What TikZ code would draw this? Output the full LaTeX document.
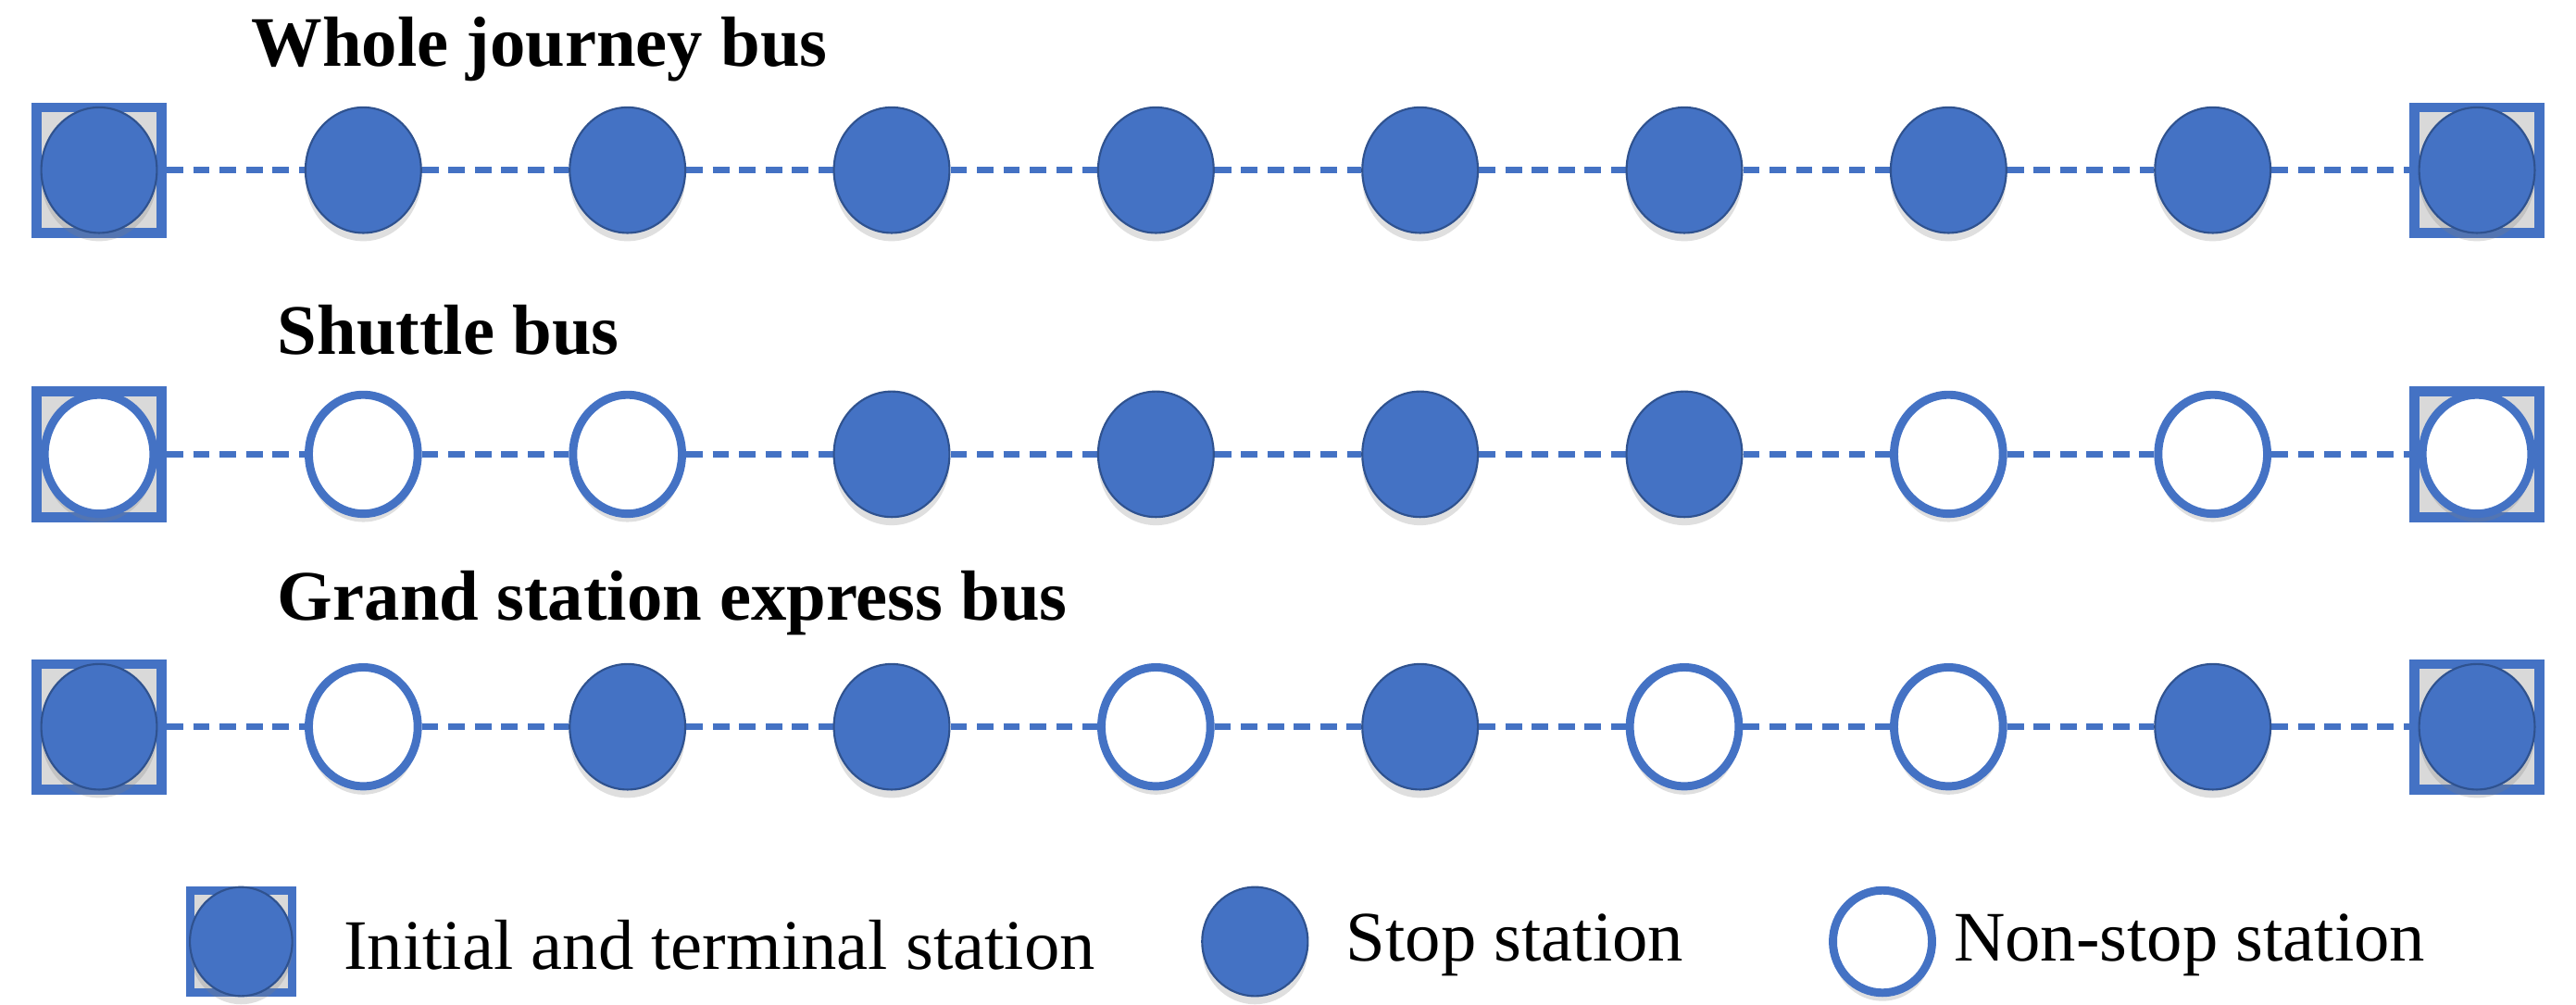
\documentclass[tikz,border=0pt]{standalone}
\usepackage{fontspec}
\setmainfont{Liberation Serif}
\usetikzlibrary{shapes.geometric,backgrounds,shadows}
\definecolor{sb}{HTML}{4472C4}
\definecolor{sbd}{HTML}{2F528F}
\begin{document}
\begin{tikzpicture}[x=1pt,y=-1pt,
  F/.style={ellipse,minimum width=70pt,minimum height=76pt,inner sep=0pt,fill=sb,draw=sbd,line width=1.2pt,drop shadow={opacity=0.25,shadow xshift=0pt,shadow yshift=-5pt}},
  H/.style={ellipse,minimum width=66pt,minimum height=72pt,inner sep=0pt,fill=white,draw=sb,line width=5pt,drop shadow={opacity=0.25,shadow xshift=0pt,shadow yshift=-5pt}},
  box/.style={rectangle,minimum width=76pt,minimum height=76pt,inner sep=0pt,draw=sb,line width=6pt,fill=black!15},
  conn/.style={sb,line width=4pt,dash pattern=on 10pt off 6pt},
  title/.style={font=\fontsize{43}{50}\selectfont\bfseries,anchor=west,inner sep=0pt},
  leg/.style={font=\fontsize{43}{50}\selectfont,anchor=west,inner sep=0pt}]
\useasboundingbox (0,0) rectangle (1560,608);
\node[title] (t1) at (152,30) {Whole journey bus};
\node[title] (t2) at (168,200) {Shuttle bus};
\node[title] (t3) at (168,365) {Grand station express bus};
\foreach \r/\y/\pat in {1/103/{F,F,F,F,F,F,F,F,F,F},2/275/{H,H,H,F,F,F,F,H,H,H},3/440/{F,H,F,F,H,F,H,H,F,F}}{
  \foreach \s [count=\i] in \pat {
    \pgfmathsetmacro\xx{60+160*(\i-1)}
    \ifnum\i=1 \node[box] (b\r-\i) at (\xx,\y) {};\fi
    \ifnum\i=10 \node[box] (b\r-\i) at (\xx,\y) {};\fi
    \node[\s] (n\r-\i) at (\xx,\y) {};
  }
  \begin{scope}[on background layer]
  \draw[conn] (b\r-1.east) -- (n\r-2);
  \foreach \a/\b in {2/3,3/4,4/5,5/6,6/7,7/8,8/9} \draw[conn] (n\r-\a) -- (n\r-\b);
  \draw[conn] (n\r-9) -- (b\r-10.west);
  \end{scope}
}
\node[box,minimum width=62pt,minimum height=62pt,line width=5pt] (lb) at (146,570) {};
\node[F,minimum width=62pt,minimum height=66pt] (ln) at (146,570) {};
\node[leg] (l1) at (208,572) {Initial and terminal station};
\node[F,minimum width=64pt,minimum height=66pt] (lf) at (760,570) {};
\node[leg] (l2) at (815,572) {Stop station};
\node[H,minimum width=60pt,minimum height=62pt] (lh) at (1140,570) {};
\node[leg] (l3) at (1183,572) {Non-stop station};
\end{tikzpicture}
\end{document}
